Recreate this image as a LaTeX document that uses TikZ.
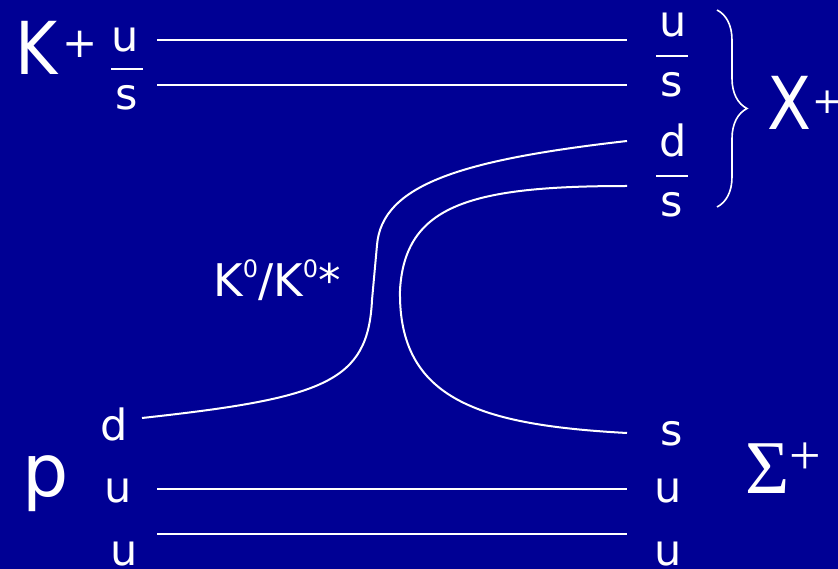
\documentclass[tikz,border=0pt]{standalone}
\usepackage{fontspec}
\setmainfont{DejaVu Sans}
\newfontfamily\timesfont{Liberation Serif}
\usepackage{graphicx}
\usepackage{xcolor}
\usepackage{tikz}
\usetikzlibrary{decorations.pathreplacing}

\definecolor{slideblue}{RGB}{0,0,148}

% antiquark bar, raised charge/index, narrow capital
\newcommand{\abar}[1]{\ooalign{#1\cr\hidewidth\smash{\rule[40pt]{32pt}{1.8pt}}\hidewidth\cr}}
\newcommand{\upidx}[3]{\raisebox{#1}{\fontsize{#2}{#2}\selectfont #3}}
\newcommand{\narrowcap}[1]{\scalebox{0.88}[1]{#1}}

\begin{document}
\begin{tikzpicture}[x=1pt,y=-1pt,
    quark/.style={white,line width=2pt},
    qlabel/.style={text=white,inner sep=0pt,anchor=base,font=\fontsize{43}{43}\selectfont},
    hadron/.style={text=white,inner sep=0pt,anchor=base,font=\fontsize{73}{73}\selectfont},
    brc/.style={white,line width=1.6pt,decorate,decoration={brace,amplitude=30pt}}]
    \useasboundingbox (0,0) rectangle (838,569);
    \fill[slideblue] (0,0) rectangle (838,569);

    \node[hadron,anchor=base west] (kplus) at (15,75) {\narrowcap{K}\hspace{5pt}\upidx{17pt}{42}{+}};
    \node[hadron] (proton) at (46,496) {p};
    \node[hadron,anchor=base west] (xplus) at (767,130) {\narrowcap{X}\hspace{1pt}\upidx{16pt}{36}{+}};
    \node[hadron] (sigma) at (783,493) {{\timesfont\fontsize{76}{76}\selectfont Σ}\upidx{19pt}{56}{\timesfont +}};
    \node[text=white,inner sep=0pt,anchor=base,font=\fontsize{45}{45}\selectfont] (kzero)
        at (277,297) {K\upidx{19pt}{24}{0}/K\upidx{19pt}{24}{0}*};

    \node[qlabel] (uL1) at (125,52)  {u};
    \node[qlabel] (sL1) at (127,110) {\abar{s}};
    \node[qlabel] (dL1) at (114,440) {d};
    \node[qlabel] (uL2) at (118,502) {u};
    \node[qlabel] (uL3) at (124,565) {u};

    \node[qlabel] (uR1) at (673,37)  {u};
    \node[qlabel] (sR1) at (672,97)  {\abar{s}};
    \node[qlabel] (dR1) at (673,157) {d};
    \node[qlabel] (sR2) at (672,217) {\abar{s}};
    \node[qlabel] (sR3) at (672,445) {s};
    \node[qlabel] (uR2) at (668,502) {u};
    \node[qlabel] (uR3) at (668,565) {u};

    \coordinate (ua) at (157,40);   \coordinate (ub) at (627,40);
    \coordinate (sa) at (157,85);   \coordinate (sb) at (627,85);
    \coordinate (dout) at (627,141);
    \coordinate (sout) at (627,186);
    \coordinate (din) at (142,418);
    \coordinate (sin) at (627,433);
    \coordinate (uc) at (157,489);  \coordinate (ud) at (627,489);
    \coordinate (ue) at (157,534);  \coordinate (uf) at (627,534);

    \draw[quark] (ua) -- (ub);
    \draw[quark] (sa) -- (sb);
    \draw[quark] (uc) -- (ud);
    \draw[quark] (ue) -- (uf);

    % the d and s pair
    \draw[quark] (din) .. controls (325,398) and (368,382) .. (372,300)
        -- (377,245) .. controls (382,185) and (460,160) .. (dout);
    \draw[quark] (sout) .. controls (470,186) and (405,205) .. (400,290)
        .. controls (398,400) and (480,425) .. (sin);

    \coordinate (btop) at (717,10);
    \coordinate (bbot) at (717,207);
    \draw[brc] (btop) -- (bbot);
\end{tikzpicture}
\end{document}
